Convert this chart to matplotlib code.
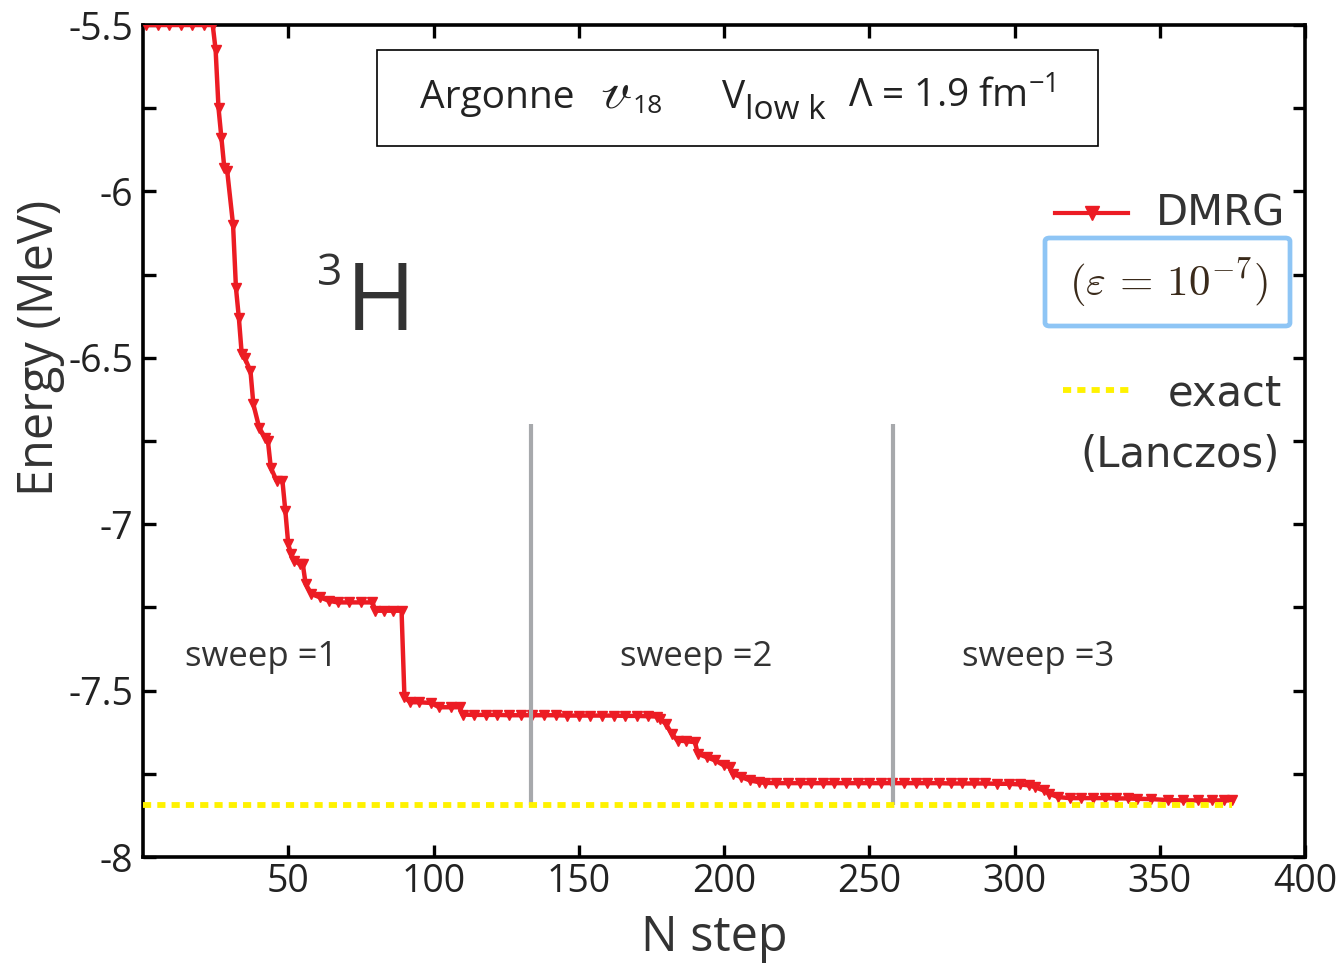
import matplotlib.pyplot as plt
from matplotlib.lines import Line2D
from matplotlib.patches import Rectangle, FancyBboxPatch

# ---------------------------------------------
# Data
# ---------------------------------------------
n_step = [1, 5, 9, 13, 17, 21, 24,
          25, 26, 27, 28, 29, 31, 32, 33,
          34, 35, 37, 38, 40, 42, 43, 44, 46, 48, 49, 50, 51, 52, 54, 55, 56, 58,
          61, 64, 67, 71, 75, 79, 80, 83, 86, 89,
          90, 92, 95, 99, 102, 106, 109,
          110, 114, 118, 122, 126, 130, 134, 138, 142, 146, 150, 154, 158, 162,
          166, 170, 174, 177,
          178, 180, 182, 184, 187, 190, 191, 194, 197, 200, 202, 203, 206, 209,
          212, 214, 218, 222, 226, 230, 234, 238, 242, 246, 250, 254, 258, 262,
          266, 270, 274, 278, 282, 286, 290, 294, 298,
          302, 305, 307, 310, 312, 315, 319, 323, 327, 331, 335, 339, 342,
          347, 353, 358, 363, 368, 372, 375]
energy = [-5.5, -5.5, -5.5, -5.5, -5.5, -5.5, -5.5,
          -5.575, -5.75, -5.84, -5.93, -5.94, -6.10, -6.29, -6.38,
          -6.49, -6.50, -6.54, -6.64, -6.71, -6.74, -6.75, -6.83, -6.87, -6.87,
          -6.96, -7.06, -7.09, -7.11, -7.12, -7.12, -7.18, -7.21,
          -7.22, -7.23, -7.235, -7.235, -7.235, -7.235, -7.26, -7.26, -7.26, -7.26,
          -7.52, -7.535, -7.535, -7.537, -7.55, -7.55, -7.55,
          -7.572, -7.573, -7.573, -7.573, -7.574, -7.574, -7.574, -7.574, -7.574,
          -7.575, -7.575, -7.575, -7.575, -7.575, -7.576, -7.576, -7.577, -7.578,
          -7.585, -7.60, -7.63, -7.65, -7.652, -7.655, -7.69, -7.70, -7.71, -7.725,
          -7.73, -7.75, -7.76, -7.77,
          -7.775, -7.777, -7.778, -7.778, -7.778, -7.778, -7.778, -7.778, -7.778,
          -7.778, -7.778, -7.778, -7.778, -7.778,
          -7.778, -7.778, -7.778, -7.779, -7.779, -7.779, -7.779, -7.780, -7.780,
          -7.782, -7.785, -7.79, -7.80, -7.81, -7.82, -7.823, -7.823, -7.823,
          -7.823, -7.824, -7.824, -7.825,
          -7.826, -7.829, -7.83, -7.83, -7.83, -7.83, -7.83]

exact_energy = -7.845
exact_range = [0, 375]

sweep_ends = [133.5, 258.3]
sweep_line_top = -6.70
sweep_labels = ["sweep =1", "sweep =2", "sweep =3"]

x_ticks = [50, 100, 150, 200, 250, 300, 350, 400]
y_ticks = [-8, -7.75, -7.5, -7.25, -7, -6.75, -6.5, -6.25, -6, -5.75, -5.5]

red = '#ec1c24'
yellow = '#fff200'
grey = '#a7a9ac'
txt = '#222222'
dark = '#333333'
sans = ['Open Sans', 'DejaVu Sans']
hand = ['DejaVu Sans']


def ax_xy(px, py):
    # pikselposisjon i referansen -> akse-koordinater
    return (px - 143) / 1162, (857 - py) / 832


# ---------------------------------------------
# Figur
# ---------------------------------------------
fig = plt.figure(figsize=(13.42, 9.65), dpi=100)
ax = fig.add_axes([143 / 1342, 108 / 965, 1162 / 1342, 832 / 965])

ax.plot(n_step, energy, color=red, lw=3.2, marker='v', ms=7.5, zorder=3)
ax.vlines(sweep_ends, exact_energy, sweep_line_top, color=grey, lw=3, zorder=4)
ax.plot(exact_range, [exact_energy, exact_energy], color=yellow, lw=4.2,
        linestyle=(0, (1.4, 1.05)), dash_capstyle='butt', zorder=5)

ax.set_xlim(0, 400)
ax.set_ylim(-8, -5.5)
ax.set_xticks(x_ticks)
ax.set_yticks(y_ticks)
ax.set_yticklabels([('%g' % v) if (v * 2) == int(v * 2) else '' for v in y_ticks])
ax.tick_params(direction='in', length=9, width=2.4, top=True, right=True,
               labelsize=27, labelcolor=txt)
ax.tick_params(axis='y', pad=7)
ax.tick_params(axis='x', pad=4)
for lab in ax.get_xticklabels() + ax.get_yticklabels():
    lab.set_family(sans)
for s in ax.spines.values():
    s.set_linewidth(2.6)

x, y = ax_xy(40, 348)
ax.text(x, y, 'Energy (MeV)', transform=ax.transAxes, rotation=90,
        ha='center', va='center', fontsize=35, color=dark, family=sans)
x, y = ax_xy(714, 938)
ax.text(x, y, 'N step', transform=ax.transAxes, ha='center',
        va='center', fontsize=35, color=dark, family=sans)

# sweep tekster
for px, lab in zip([185, 620, 962], sweep_labels):
    x, y = ax_xy(px, 657)
    ax.text(x, y, lab, transform=ax.transAxes, ha='left', va='center',
            fontsize=25, color=dark, family=sans)

# 3H
x, y = ax_xy(317, 274)
ax.text(x, y, '3', transform=ax.transAxes, ha='left', va='center',
        fontsize=32, color=dark, family=sans)
x, y = ax_xy(346, 330)
ax.text(x, y, 'H', transform=ax.transAxes, ha='left', va='baseline',
        fontsize=68, color=dark, family=sans)

# boks øverst
ax.add_patch(Rectangle((0.2014, 0.8546), 0.6205, 0.1154, transform=ax.transAxes,
                       fill=False, ec='black', lw=1.2, zorder=6))
base = ax_xy(0, 108)[1]
ax.text(ax_xy(420, 0)[0], base, 'Argonne', transform=ax.transAxes, ha='left',
        va='baseline', fontsize=28, color=txt, family=sans)
ax.text(ax_xy(600, 0)[0], base, r'$\mathscr{v}$', transform=ax.transAxes,
        ha='left', va='baseline', fontsize=37, color=txt, math_fontfamily='stix')
ax.text(ax_xy(633, 0)[0], ax_xy(0, 113)[1], '18', transform=ax.transAxes,
        ha='left', va='baseline', fontsize=19, color=txt, family=sans)
ax.text(ax_xy(722, 0)[0], base, 'V', transform=ax.transAxes, ha='left',
        va='baseline', fontsize=28, color=txt, family=sans)
ax.text(ax_xy(745, 0)[0], ax_xy(0, 119)[1], 'low k', transform=ax.transAxes,
        ha='left', va='baseline', fontsize=24, color=txt, family=sans)
ax.text(ax_xy(848, 0)[0], base, r'Λ = 1.9 fm$^{\mathregular{-1}}$', transform=ax.transAxes,
        ha='left', va='baseline', fontsize=28, color=txt, family=sans)

# legende (tegnet manuelt)
x0, y0 = ax_xy(1055, 213)
x1, _ = ax_xy(1128, 213)
ax.add_line(Line2D([x0, x1], [y0, y0], color=red, lw=3,
                   transform=ax.transAxes, clip_on=False, zorder=7))
ax.add_line(Line2D([(x0 + x1) / 2], [y0], color=red, marker='v', ms=10,
                   transform=ax.transAxes, clip_on=False, zorder=7))
x, y = ax_xy(1285, 213)
ax.text(x, y, 'DMRG', transform=ax.transAxes, ha='right', va='center',
        fontsize=30, color=dark, family=hand)
bx, by = ax_xy(1045, 326)
ax.add_patch(FancyBboxPatch((bx, by), 245 / 1162, 88 / 832, transform=ax.transAxes,
                            boxstyle='round,pad=0,rounding_size=0.004',
                            fill=False, ec='#8ec5f5', lw=3.4, zorder=7, clip_on=False))
x, y = ax_xy(1168, 283)
ax.text(x, y, r'$(\varepsilon\,=\,10^{-7})$', transform=ax.transAxes,
        ha='center', va='center', fontsize=31, color='#3a2a1a', math_fontfamily='cm')
x0, y0 = ax_xy(1063, 390)
x1, _ = ax_xy(1130, 390)
ax.add_line(Line2D([x0, x1], [y0, y0], color=yellow, lw=4.2,
                   linestyle=(0, (1.4, 1.05)), dash_capstyle='butt',
                   transform=ax.transAxes, clip_on=False, zorder=7))
x, y = ax_xy(1282, 393)
ax.text(x, y, 'exact', transform=ax.transAxes, ha='right', va='center',
        fontsize=30, color=dark, family=hand)
x, y = ax_xy(1280, 455)
ax.text(x, y, '(Lanczos)', transform=ax.transAxes, ha='right', va='center',
        fontsize=30, color=dark, family=hand)

fig.savefig('out.png', dpi=100)
